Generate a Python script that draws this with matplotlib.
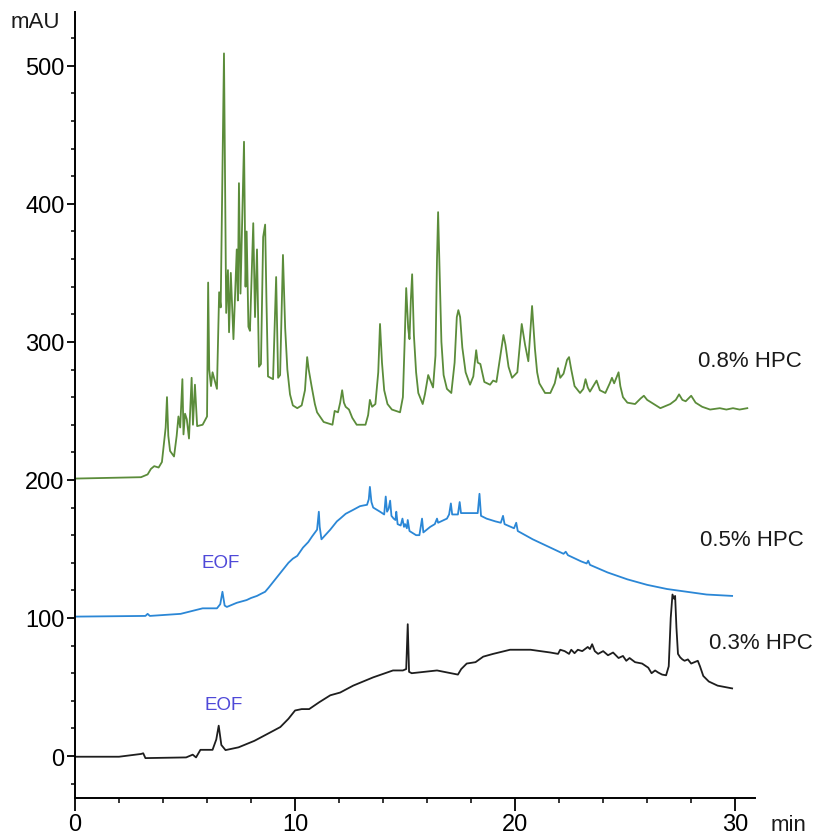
import matplotlib
matplotlib.use("Agg")
import matplotlib.pyplot as plt
from matplotlib.ticker import MultipleLocator

plt.rcParams['font.family'] = ['Liberation Sans', 'DejaVu Sans']

# ---- data: 0.8% HPC (green), (time min, mAU) ----
trace_08 = [
    (0, 201), (3.0, 202), (3.3, 204), (3.45, 208), (3.6, 210), (3.8, 209), (3.95, 213),
    (4.05, 228), (4.12, 238), (4.18, 260), (4.24, 232), (4.32, 221), (4.5, 217),
    (4.62, 232), (4.7, 246), (4.78, 238), (4.88, 273), (4.93, 233), (5.0, 248),
    (5.08, 244), (5.18, 230), (5.3, 274), (5.36, 240), (5.45, 269), (5.55, 239),
    (5.8, 240), (6.0, 246), (6.05, 343), (6.1, 280), (6.18, 268), (6.25, 278),
    (6.45, 266), (6.55, 336), (6.62, 325), (6.77, 509), (6.87, 321), (6.95, 352),
    (7.0, 307), (7.08, 350), (7.2, 302), (7.35, 367), (7.4, 330), (7.45, 415),
    (7.52, 335), (7.68, 445), (7.75, 340), (7.8, 380), (7.88, 311), (7.95, 308),
    (8.1, 386), (8.18, 318), (8.27, 367), (8.36, 282), (8.45, 284), (8.55, 376),
    (8.64, 385), (8.7, 330), (8.77, 275), (9.0, 273), (9.14, 347), (9.23, 274),
    (9.32, 276), (9.45, 363), (9.55, 310), (9.65, 280), (9.77, 262), (9.9, 254),
    (10.1, 252), (10.3, 254), (10.45, 265), (10.55, 289), (10.62, 280), (10.75, 268),
    (10.9, 255), (11.0, 249), (11.3, 242), (11.7, 240), (11.8, 250), (11.95, 249),
    (12.05, 256), (12.14, 265), (12.22, 256), (12.3, 253), (12.45, 251), (12.6, 245),
    (12.8, 240), (13.2, 240), (13.32, 247), (13.4, 258), (13.5, 253), (13.65, 255),
    (13.78, 278), (13.86, 313), (13.95, 285), (14.05, 265), (14.2, 255), (14.4, 251),
    (14.77, 249), (14.9, 260), (14.98, 300), (15.05, 339), (15.14, 310), (15.2, 302),
    (15.26, 330), (15.32, 349), (15.4, 305), (15.5, 278), (15.6, 263), (15.8, 255),
    (15.9, 262), (16.05, 276), (16.15, 272), (16.27, 267), (16.38, 290), (16.45, 360),
    (16.5, 394), (16.57, 350), (16.65, 300), (16.75, 276), (16.9, 266), (17.1, 263),
    (17.25, 285), (17.35, 318), (17.42, 323), (17.5, 318), (17.6, 296), (17.75, 278),
    (17.95, 269), (18.1, 275), (18.23, 294), (18.3, 285), (18.42, 284), (18.6, 271),
    (18.86, 269), (19.0, 272), (19.15, 271), (19.3, 287), (19.47, 305), (19.56, 298),
    (19.7, 282), (19.86, 274), (20.1, 278), (20.3, 313), (20.45, 298), (20.6, 286),
    (20.77, 326), (20.9, 295), (21.0, 278), (21.1, 270), (21.36, 263), (21.6, 263),
    (21.8, 270), (21.95, 281), (22.05, 274), (22.2, 277), (22.36, 287), (22.45, 289),
    (22.55, 280), (22.7, 268), (22.95, 263), (23.1, 266), (23.2, 273), (23.3, 267),
    (23.4, 264), (23.55, 268), (23.7, 272), (23.85, 265), (24.1, 263), (24.3, 270),
    (24.4, 274), (24.5, 270), (24.6, 274), (24.7, 278), (24.78, 268), (24.9, 260),
    (25.1, 256), (25.45, 255), (25.7, 259), (25.85, 261), (26.0, 258), (26.3, 255),
    (26.6, 252), (27.05, 255), (27.3, 258), (27.45, 262), (27.6, 258), (27.75, 257),
    (28.0, 261), (28.2, 256), (28.5, 253), (28.86, 251), (29.3, 252), (29.6, 251),
    (29.9, 252), (30.2, 251), (30.55, 252),
]

# ---- data: 0.5% HPC (blue) ----
trace_05 = [
    (0, 101), (3.2, 101.5), (3.3, 103), (3.4, 101.5), (4.8, 103), (5.8, 107),
    (6.45, 107), (6.6, 110), (6.7, 119), (6.8, 109), (6.9, 108), (7.35, 111),
    (7.8, 113), (8.0, 114.5), (8.27, 116), (8.45, 117.5), (8.64, 119), (8.8, 122),
    (9.0, 126), (9.2, 130), (9.4, 134), (9.55, 137), (9.7, 140), (9.9, 143),
    (10.1, 145), (10.36, 151), (10.6, 155), (10.77, 159), (11.0, 164), (11.08, 177),
    (11.12, 166), (11.2, 157), (11.6, 164), (11.9, 170), (12.05, 172), (12.3, 175.5),
    (12.6, 178), (12.95, 181), (13.1, 181.5), (13.27, 182), (13.35, 186), (13.4, 195),
    (13.47, 184), (13.55, 180), (13.86, 177), (14.05, 175), (14.12, 188), (14.18, 177),
    (14.25, 179), (14.32, 185), (14.38, 174), (14.48, 172), (14.56, 171), (14.6, 177),
    (14.66, 168), (14.8, 167), (14.88, 172), (14.95, 166), (15.0, 168), (15.08, 165),
    (15.12, 171), (15.2, 163), (15.5, 160), (15.65, 160), (15.77, 172), (15.83, 162),
    (16.14, 166), (16.35, 168), (16.45, 172), (16.5, 169), (16.9, 172), (17.0, 175),
    (17.08, 183), (17.14, 175), (17.4, 175), (17.48, 184), (17.54, 176), (17.95, 176),
    (18.3, 176), (18.38, 190), (18.45, 174), (18.7, 172), (19.1, 170), (19.35, 169),
    (19.45, 174), (19.52, 168), (19.95, 165), (20.05, 169), (20.12, 163), (20.8, 157),
    (21.6, 151), (22.2, 146.5), (22.3, 148), (22.4, 145.5), (23.0, 141), (23.25, 139.5),
    (23.32, 141.5), (23.4, 138.5), (24.2, 133), (25.1, 128), (26.0, 124), (26.9, 121),
    (27.8, 119), (28.7, 117), (29.86, 116),
]

# ---- data: 0.3% HPC (black) ----
trace_03 = [
    (0, -0.5), (2.0, -0.5), (3.0, 1.5), (3.1, 2), (3.2, -1.5), (5.05, -1), (5.35, 1),
    (5.5, -1), (5.7, 4.5), (6.25, 4.5), (6.42, 12), (6.53, 22), (6.65, 8), (6.84, 4.3),
    (7.43, 6.3), (8.15, 11), (8.86, 17), (9.33, 21), (9.7, 27), (10.0, 33), (10.3, 34),
    (10.64, 34), (11.1, 39), (11.6, 44), (12.05, 46), (12.64, 51), (13.55, 57),
    (14.45, 62), (14.9, 62), (15.05, 63), (15.12, 95.5), (15.18, 61), (15.3, 60),
    (16.45, 62), (17.4, 59), (17.55, 63), (17.8, 67), (18.2, 68), (18.55, 72), (19.0, 74),
    (19.77, 77), (20.7, 77), (21.6, 75), (21.95, 74), (22.05, 77), (22.25, 76),
    (22.45, 74), (22.55, 77), (22.7, 74.5), (22.85, 77), (23.05, 76), (23.3, 79),
    (23.4, 77.5), (23.5, 81), (23.62, 76), (23.77, 74), (24.0, 76), (24.22, 73),
    (24.45, 75), (24.7, 71), (24.9, 72.5), (25.05, 69), (25.2, 71), (25.45, 68),
    (25.77, 67), (26.05, 64), (26.2, 60), (26.36, 62), (26.5, 60.5), (26.68, 59),
    (26.86, 58.5), (26.98, 65), (27.07, 100), (27.15, 117), (27.22, 114), (27.27, 116),
    (27.33, 93), (27.4, 74), (27.5, 71.5), (27.6, 70), (27.7, 69), (27.85, 70),
    (28.0, 67), (28.3, 69), (28.4, 65), (28.55, 58), (28.8, 54), (29.2, 51), (29.86, 49),
]

trace_labels = ["0.8% HPC", "0.5% HPC", "0.3% HPC"]
label_pos = [(28.3, 286.5), (28.4, 157), (28.8, 82.5)]
eof_pos = [(6.6, 140), (6.77, 37)]
colors = ["#5b8c3a", "#2b87d6", "#1e1e1e"]

fig = plt.figure(figsize=(8.13, 8.37), dpi=100)
ax = fig.add_axes([75/813, 38/837, 680/813, 786/837])

for trace, c in zip([trace_08, trace_05, trace_03], colors):
    ts, vs = zip(*trace)
    ax.plot(ts, vs, color=c, lw=1.3, solid_joinstyle='round')

ax.set_xlim(0, 30.9)
ax.set_ylim(-30.4, 539)
ax.spines['top'].set_visible(False)
ax.spines['right'].set_visible(False)
ax.spines['left'].set_linewidth(1.4)
ax.spines['bottom'].set_linewidth(1.4)

ax.xaxis.set_major_locator(MultipleLocator(10))
ax.xaxis.set_minor_locator(MultipleLocator(2))
ax.yaxis.set_major_locator(MultipleLocator(100))
ax.yaxis.set_minor_locator(MultipleLocator(20))
ax.tick_params(axis='x', which='major', length=9.5, width=1.3, labelsize=17, pad=1)
ax.tick_params(axis='x', which='minor', length=3.5, width=1.1)
ax.tick_params(axis='y', which='major', length=5.5, width=1.3, labelsize=17, pad=2)
ax.tick_params(axis='y', which='minor', length=3, width=1.1)

for (x, y), lab in zip(label_pos, trace_labels):
    ax.text(x, y, lab, fontsize=16, va='center', ha='left', color="#1a1a1a")
for (x, y) in eof_pos:
    ax.text(x, y, "EOF", fontsize=13.5, va='center', ha='center', color="#4f49d8")

fig.text(35/813, 1 - 22/837, "mAU", fontsize=16, ha='center', va='center', color="#1a1a1a")
fig.text(771/813, 1 - 826/837, "min", fontsize=16, ha='left', va='center', color="#1a1a1a")

fig.savefig("out.png", dpi=100)
